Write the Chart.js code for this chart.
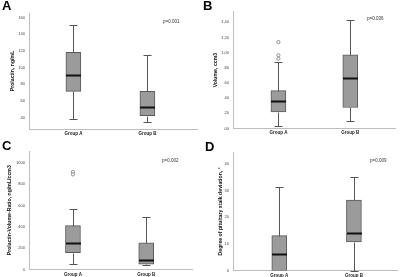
<!DOCTYPE html>
<html>
<head>
<meta charset="utf-8">
<script src="https://cdn.jsdelivr.net/npm/chart.js@4"></script>
<style>
  body { margin: 0; background: #fff; width: 400px; height: 277px; position: relative; overflow: hidden; }
  .panel { position: absolute; width: 200px; }
</style>
</head>
<body>
<div class="panel" style="left:0;top:0;height:138px"><canvas id="chartA"></canvas></div>
<div class="panel" style="left:200px;top:0;height:138px"><canvas id="chartB"></canvas></div>
<div class="panel" style="left:0;top:138px;height:139px"><canvas id="chartC"></canvas></div>
<div class="panel" style="left:200px;top:138px;height:139px"><canvas id="chartD"></canvas></div>
<script>
'use strict';

var groups = ['Group A', 'Group B'];

// box summaries: min, q1, median, q3, max
var prolactinA = [38.4, 71.6, 90.8, 118.4, 151.2];
var prolactinB = [34.4, 42.4, 53.2, 71.6, 115.6];
var volumeA = [0.03, 0.22, 0.365, 0.50, 0.88];
var volumeB = [0.105, 0.277, 0.664, 0.971, 1.433];
var volumeOutliersA = [1.14, 0.965, 0.92];
var ratioA = [53, 159, 247, 412, 569];
var ratioB = [41, 50, 87, 250, 497];
var ratioOutliersA = [915, 892];
var stalkA = [0, 0, 6.25, 13.1, 31.25];
var stalkB = [0, 10.75, 14.1, 26.5, 35.25];

var prolactinTicks = [40, 60, 80, 100, 120, 140, 160];
var volumeTicks = [0, 0.2, 0.4, 0.6, 0.8, 1.0, 1.2, 1.4];
var volumeTickLabels = ['.00', '.20', '.40', '.60', '.80', '1,00', '1,20', '1,40'];
var ratioTicks = [0, 200, 400, 600, 800, 1000];
var stalkTicks = [0, 10, 20, 30, 40];

var pValues = ['p=0.001', 'p=0.036', 'p=0.002', 'p=0.009'];

var FONT = "'Liberation Sans', Arial, sans-serif";

// whiskers, caps, medians, panel letter and p-value
var boxPlugin = {
  id: 'boxes',
  afterDatasetsDraw: function(chart, args, o) {
    var ctx = chart.ctx, xs = chart.scales.x, ys = chart.scales.y;
    function seg(x1, y1, x2, y2) {
      ctx.beginPath(); ctx.moveTo(x1, y1); ctx.lineTo(x2, y2); ctx.stroke();
    }
    ctx.save();
    o.stats.forEach(function(s, i) {
      var cx = Math.round(xs.getPixelForValue(i + 1)) + 0.5;
      var p = s.map(function(v) { return Math.round(ys.getPixelForValue(v)) + 0.5; });
      ctx.strokeStyle = '#555';
      ctx.lineWidth = 1;
      if (p[0] !== p[1]) {
        seg(cx, p[0], cx, p[1]);
        seg(cx - 4, p[0], cx + 4, p[0]);
      }
      seg(cx, p[3], cx, p[4]);
      seg(cx - 4, p[4], cx + 4, p[4]);
      ctx.strokeStyle = '#111';
      ctx.lineWidth = 2;
      seg(cx - 7.5, p[2], cx + 7.5, p[2]);
    });
    ctx.fillStyle = '#000';
    ctx.font = 'bold 13px ' + FONT;
    ctx.textBaseline = 'alphabetic';
    ctx.fillText(o.letter, o.letterX, o.letterY);
    ctx.fillStyle = '#333';
    ctx.font = '4.5px ' + FONT;
    ctx.textBaseline = 'middle';
    ctx.fillText(o.pText, o.pX, o.pY);
    ctx.restore();
  }
};

function makePanel(id, cfg) {
  var statsA = cfg.stats[0], statsB = cfg.stats[1];
  var outliers = (cfg.outliers || []).map(function(v) { return { x: 1, y: v }; });
  new Chart(document.getElementById(id), {
    type: 'bar',
    data: {
      datasets: [{
        data: [{ x: 1, y: [statsA[1], statsA[3]] }, { x: 2, y: [statsB[1], statsB[3]] }],
        backgroundColor: '#9b9b9b',
        borderColor: '#5a5a5a',
        borderWidth: 1,
        borderSkipped: false,
        barThickness: 15
      }, {
        type: 'scatter',
        data: outliers,
        pointStyle: 'circle',
        pointRadius: 1.6,
        backgroundColor: '#fff',
        borderColor: '#777',
        borderWidth: 0.8
      }]
    },
    options: {
      responsive: true, maintainAspectRatio: false, animation: false,
      layout: { padding: { left: 0, top: cfg.top, right: 200 - cfg.right, bottom: 0 } },
      plugins: {
        legend: { display: false }, tooltip: { enabled: false },
        boxes: {
          stats: cfg.stats, letter: cfg.letter, letterX: cfg.letterX, letterY: cfg.letterY,
          pText: cfg.pText, pX: cfg.pX, pY: cfg.pY
        }
      },
      scales: {
        x: {
          type: 'linear', min: cfg.xMin, max: cfg.xMax, offset: false,
          grid: { display: false, drawTicks: false, offset: false },
          border: { display: true, color: '#bdbdbd', width: 1 },
          afterBuildTicks: function(s) { s.ticks = [{ value: 1 }, { value: 2 }]; },
          afterFit: function(s) { s.height = cfg.h - cfg.bottom; },
          ticks: {
            autoSkip: false, maxRotation: 0, padding: cfg.xPad, color: '#222',
            font: { family: FONT, size: 4.5, weight: 'bold' },
            callback: function(v) { return groups[v - 1]; }
          }
        },
        y: {
          min: cfg.yMin, max: cfg.yMax,
          grid: { display: false, drawTicks: false },
          border: { display: true, color: '#bdbdbd', width: 1 },
          afterBuildTicks: function(s) { s.ticks = cfg.ticks.map(function(v) { return { value: v }; }); },
          afterFit: function(s) { s.width = cfg.left; },
          ticks: {
            padding: 4, color: '#444',
            font: { family: FONT, size: 4 },
            callback: function(v, i) { return cfg.tickLabels ? cfg.tickLabels[i] : String(v); }
          },
          title: {
            display: true, text: cfg.yTitle, color: '#111',
            font: { family: FONT, size: 5.2, weight: 'bold' },
            padding: { top: cfg.titleX - 3, bottom: 0 }
          }
        }
      }
    },
    plugins: [boxPlugin]
  });
}

makePanel('chartA', {
  stats: [prolactinA, prolactinB], outliers: [],
  yMin: 26.4, yMax: 165.6, ticks: prolactinTicks, tickLabels: null,
  yTitle: 'Prolactin, ng/mL',
  h: 138, left: 29, top: 13, right: 197, bottom: 129,
  xMin: 0.4, xMax: 2.67, xPad: 2, titleX: 12.5,
  letter: 'A', letterX: 2, letterY: 10,
  pText: pValues[0], pX: 163, pY: 22
});

makePanel('chartB', {
  stats: [volumeA, volumeB], outliers: volumeOutliersA,
  yMin: 0, yMax: 1.54, ticks: volumeTicks, tickLabels: volumeTickLabels,
  yTitle: 'Volume, ccm3',
  h: 138, left: 33, top: 11.7, right: 197, bottom: 128.5,
  xMin: 0.368, xMax: 2.625, xPad: 2, titleX: 15,
  letter: 'B', letterX: 3, letterY: 10,
  pText: pValues[1], pX: 167, pY: 19
});

makePanel('chartC', {
  stats: [ratioA, ratioB], outliers: ratioOutliersA,
  yMin: 0, yMax: 1112, ticks: ratioTicks, tickLabels: null,
  yTitle: 'Prolactin-Volume-Ratio, ng/mL/ccm3',
  h: 139, left: 29, top: 13, right: 192, bottom: 131.5,
  xMin: 0.4, xMax: 2.625, xPad: 2.5, titleX: 9.5,
  letter: 'C', letterX: 2, letterY: 12,
  pText: pValues[2], pX: 162, pY: 23
});

makePanel('chartD', {
  stats: [stalkA, stalkB], outliers: [],
  yMin: 0, yMax: 44.5, ticks: stalkTicks, tickLabels: null,
  yTitle: 'Degree of pituitary stalk deviation, \u00b0',
  h: 139, left: 33, top: 14, right: 197, bottom: 132.7,
  xMin: 0.38, xMax: 2.577, xPad: 2.5, titleX: 20,
  letter: 'D', letterX: 5, letterY: 13,
  pText: pValues[3], pX: 170, pY: 23
});
</script>
</body>
</html>
